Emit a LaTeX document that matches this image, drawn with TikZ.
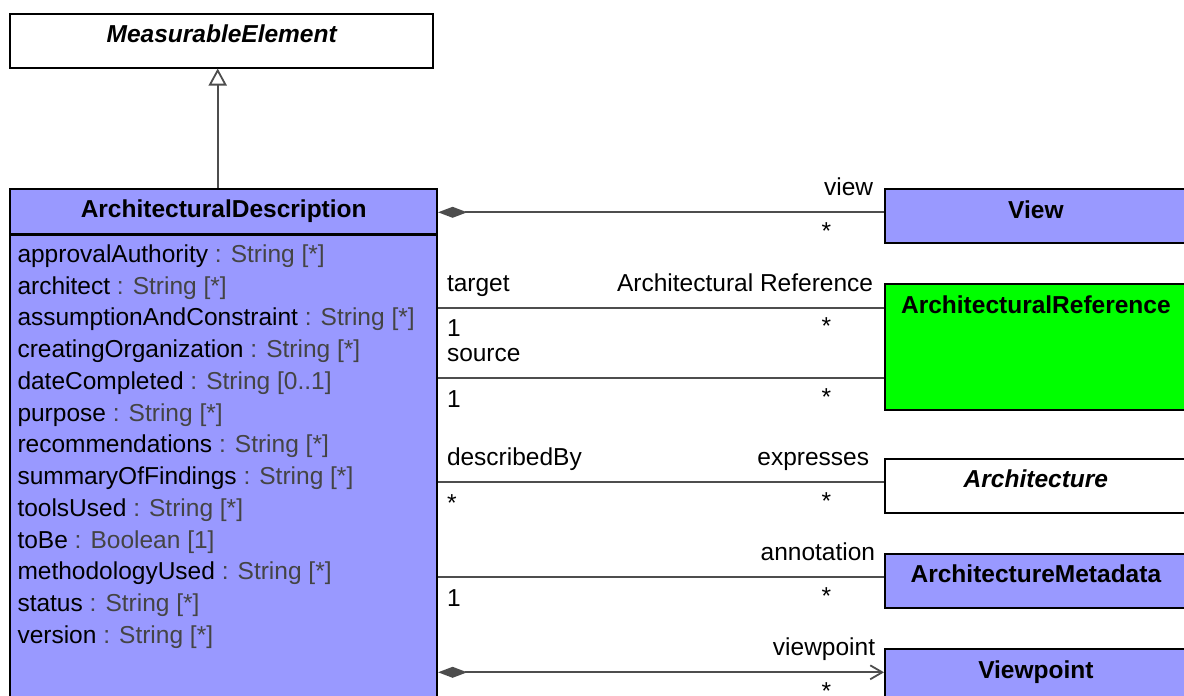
\documentclass[tikz,border=0pt]{standalone}
\usepackage{fontspec}
\setmainfont{Liberation Sans}
\usetikzlibrary{arrows.meta,positioning}
\definecolor{umlfiol}{RGB}{153,153,255}
\definecolor{umlziel}{RGB}{0,255,0}
\definecolor{linia}{RGB}{77,77,77}
\definecolor{typkol}{RGB}{68,68,68}
\tikzset{
  klasa/.style={draw=black, line width=1.8pt, inner sep=0pt, minimum width=302pt,
    text height=29pt, text depth=25pt, anchor=north west,
    font=\bfseries\fontsize{24.5}{29}\selectfont},
  abstr/.style={klasa, font=\bfseries\itshape\fontsize{24.5}{29}\selectfont},
  asoc/.style={draw=linia, line width=1.8pt},
  romb/.style={{Diamond[length=29pt,width=11pt]}-},
  etyk/.style={font=\fontsize{24.5}{29}\selectfont, inner sep=0pt},
  lg/.style={etyk, anchor=base west, xshift=8pt, yshift=16.5pt},
  ld/.style={etyk, anchor=base west, xshift=8pt, yshift=-29pt},
  pg/.style={etyk, anchor=base east, xshift=-10pt, yshift=16.5pt},
  pd/.style={etyk, anchor=base, xshift=-57.5pt, yshift=-27pt},
}
\begin{document}
\begin{tikzpicture}[x=1pt, y=-1pt]
  \useasboundingbox (0,0) rectangle (1184,696);

  % Klasa bazowa
  \node[abstr, fill=white, minimum width=423pt] (me) at (9.3,12.7) {MeasurableElement};

  % Klasa glowna z atrybutami
  \node[klasa, fill=umlfiol, minimum width=427pt, text depth=16pt] (adt) at (9.3,187.7) {ArchitecturalDescription};
  \node[draw=black, line width=1.8pt, fill=umlfiol, inner sep=0pt, minimum width=427pt,
    minimum height=462.5pt, anchor=north west] (ada) at (adt.south west) {};
  \foreach \nazwa/\atyp [count=\i from 0] in {
      approvalAuthority/{String [*]}, architect/{String [*]},
      assumptionAndConstraint/{String [*]}, creatingOrganization/{String [*]},
      dateCompleted/{String [0..1]}, purpose/{String [*]},
      recommendations/{String [*]}, summaryOfFindings/{String [*]},
      toolsUsed/{String [*]}, toBe/{Boolean [1]},
      methodologyUsed/{String [*]}, status/{String [*]}, version/{String [*]}}
    \node[etyk, anchor=base west] (atr\i) at (17.3,262.3+31.75*\i) {\nazwa{} \textcolor{typkol}{: \atyp}};

  % Generalizacja
  \draw[asoc, -{Triangle[open, length=17pt, width=18pt]}] ([xshift=-6pt]adt.north) -- ([xshift=-6pt]adt.north |- me.south);

  % Klasy po prawej
  \node[klasa, fill=umlfiol] (view) at (884,188.3) {View};
  \node[klasa, fill=umlziel, text depth=97pt] (aref) at (884,283.3) {ArchitecturalReference};
  \node[abstr, fill=white] (arch) at (884,457.7) {Architecture};
  \node[klasa, fill=umlfiol] (meta) at (884,552.7) {ArchitectureMetadata};
  \node[klasa, fill=umlfiol] (vp) at (884,648.3) {Viewpoint};

  % Punkty koncowe asocjacji
  \coordinate (cview) at ([yshift=-24pt]view.north west);
  \coordinate (ctgt) at ([yshift=-24.4pt]aref.north west);
  \coordinate (csrc) at ([yshift=-95pt]aref.north west);
  \coordinate (carch) at ([yshift=-24.6pt]arch.north west);
  \coordinate (cmeta) at ([yshift=-24.6pt]meta.north west);
  \coordinate (cvp) at ([yshift=-24pt]vp.north west);

  % Asocjacje
  \draw[asoc, romb] (adt.east |- cview) -- node[pos=1, pg] {view} node[pos=1, pd] {*} (cview);
  \draw[asoc] (ada.east |- ctgt) -- node[pos=0, lg] {target} node[pos=0, ld] {1}
    node[pos=1, pg] {Architectural Reference} node[pos=1, pd] {*} (ctgt);
  \draw[asoc] (ada.east |- csrc) -- node[pos=0, lg] {source} node[pos=0, ld] {1}
    node[pos=1, pd] {*} (csrc);
  \draw[asoc] (ada.east |- carch) -- node[pos=0, lg] {describedBy} node[pos=0, ld] {*}
    node[pos=1, pg, xshift=-4pt] {expresses} node[pos=1, pd] {*} (carch);
  \draw[asoc] (ada.east |- cmeta) -- node[pos=0, ld] {1}
    node[pos=1, pg, xshift=2pt] {annotation} node[pos=1, pd] {*} (cmeta);
  \draw[asoc, {Diamond[length=29pt,width=11pt]}-{Straight Barb[length=12pt,width=14pt]}] (ada.east |- cvp) --
    node[pos=1, pg, xshift=2pt] {viewpoint} node[pos=1, pd] {*} (cvp);
\end{tikzpicture}
\end{document}
